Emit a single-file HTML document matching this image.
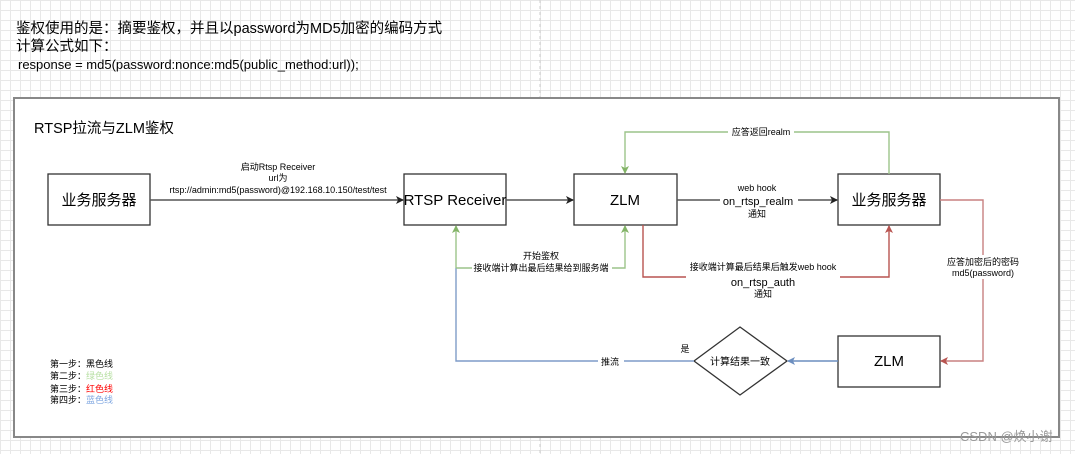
<!DOCTYPE html>
<html><head><meta charset="utf-8"><style>
body{margin:0;width:1075px;height:454px;overflow:hidden;background:#fff;
background-image:linear-gradient(#e8e8e8 1px,transparent 1px),linear-gradient(90deg,#e8e8e8 1px,transparent 1px);background-size:10px 10px;}
svg{position:absolute;left:0;top:0}
text{font-family:"Liberation Sans","Noto Sans CJK SC",sans-serif;fill:#000}
</style></head><body>
<svg width="1075" height="454" viewBox="0 0 1075 454">
<defs>
<marker id="ab" markerWidth="8" markerHeight="8" refX="7" refY="4" orient="auto" markerUnits="userSpaceOnUse"><path d="M0,0 L8,4 L0,8 L2,4z" fill="#222"/></marker>
<marker id="ag" markerWidth="8" markerHeight="8" refX="7" refY="4" orient="auto" markerUnits="userSpaceOnUse"><path d="M0,0 L8,4 L0,8 L2,4z" fill="#82b366"/></marker>
<marker id="ar" markerWidth="8" markerHeight="8" refX="7" refY="4" orient="auto" markerUnits="userSpaceOnUse"><path d="M0,0 L8,4 L0,8 L2,4z" fill="#b85450"/></marker>
<marker id="abl" markerWidth="8" markerHeight="8" refX="7" refY="4" orient="auto" markerUnits="userSpaceOnUse"><path d="M0,0 L8,4 L0,8 L2,4z" fill="#6c8ebf"/></marker>
</defs>
<line x1="540" y1="0" x2="540" y2="454" stroke="#ccc" stroke-dasharray="3,3"/>
<text x="16" y="33" font-size="14.5">鉴权使用的是：摘要鉴权，并且以password为MD5加密的编码方式</text>
<text x="16" y="51" font-size="14.5">计算公式如下：</text>
<text x="18" y="69" font-size="13">response = md5(password:nonce:md5(public_method:url));</text>
<rect x="14" y="98" width="1045" height="339" fill="#fff" stroke="#888" stroke-width="2"/>
<text x="34" y="133" font-size="14.5">RTSP拉流与ZLM鉴权</text>
<g fill="#fff" stroke="#333" stroke-width="1.3">
<rect x="48" y="174" width="102" height="51"/>
<rect x="404" y="174" width="102" height="51"/>
<rect x="574" y="174" width="103" height="51"/>
<rect x="838" y="174" width="102" height="51"/>
<rect x="838" y="336" width="102" height="51"/>
<path d="M740,327 L787,361 L740,395 L694,361z"/>
</g>
<g fill="none" stroke-width="1.4">
<line x1="150" y1="200" x2="403" y2="200" stroke="#555" marker-end="url(#ab)"/>
<line x1="506" y1="200" x2="573" y2="200" stroke="#555" marker-end="url(#ab)"/>
<line x1="677" y1="200" x2="837" y2="200" stroke="#555" marker-end="url(#ab)"/>
<polyline points="889,174 889,132 625,132 625,173" stroke="#9cc48a" marker-end="url(#ag)"/>
<polyline points="694,361 456,361 456,268" stroke="#7f9cc8"/>
<polyline points="456,268 625,268 625,226" stroke="#9cc48a" marker-end="url(#ag)"/>
<polyline points="456,268 456,226" stroke="#9cc48a" marker-end="url(#ag)"/>
<polyline points="643,225 643,277 889,277 889,226" stroke="#b85450" marker-end="url(#ar)"/>
<polyline points="940,200 983,200 983,361 941,361" stroke="#c88080" marker-end="url(#ar)"/>
<line x1="838" y1="361" x2="788" y2="361" stroke="#6c8ebf" marker-end="url(#abl)"/>
</g>
<g text-anchor="middle">
<text x="99" y="205" font-size="15">业务服务器</text>
<text x="455" y="205" font-size="15">RTSP Receiver</text>
<text x="625" y="205" font-size="15">ZLM</text>
<text x="889" y="205" font-size="15">业务服务器</text>
<text x="889" y="366" font-size="15">ZLM</text>
<text x="740" y="365" font-size="10">计算结果一致</text>
<g font-size="9">
<rect x="230" y="162" width="100" height="10" fill="#fff"/>
<text x="278" y="170">启动Rtsp Receiver</text>
<text x="278" y="181">url为</text>
<rect x="166" y="184" width="226" height="10" fill="#fff"/>
<text x="278" y="193">rtsp://admin:md5(password)@192.168.10.150/test/test</text>
<rect x="728" y="127" width="66" height="11" fill="#fff"/>
<text x="761" y="135">应答返回realm</text>
<text x="757" y="191">web hook</text>
<text x="757" y="217">通知</text>
<rect x="472" y="250" width="140" height="24" fill="#fff"/>
<text x="541" y="259">开始鉴权</text>
<text x="541" y="271">接收端计算出最后结果给到服务端</text>
<rect x="686" y="262" width="154" height="22" fill="#fff"/>
<text x="763" y="270">接收端计算最后结果后触发web hook</text>
<text x="763" y="297">通知</text>
<rect x="946" y="255" width="74" height="24" fill="#fff"/>
<text x="983" y="265">应答加密后的密码</text>
<text x="983" y="276">md5(password)</text>
<rect x="598" y="356" width="26" height="10" fill="#fff"/>
<text x="610" y="365">推流</text>
<text x="685" y="352">是</text>
</g>
<rect x="720" y="195" width="78" height="12" fill="#fff"/>
<text x="758" y="205" font-size="11">on_rtsp_realm</text>
<text x="763" y="286" font-size="11">on_rtsp_auth</text>
</g>
<g font-size="9">
<text x="50" y="367">第一步：<tspan>黑色线</tspan></text>
<text x="50" y="379">第二步：<tspan style="fill:#b9e0a5">绿色线</tspan></text>
<text x="50" y="392">第三步：<tspan style="fill:#ff0000">红色线</tspan></text>
<text x="50" y="403">第四步：<tspan style="fill:#7ea6e0">蓝色线</tspan></text>
</g>
<text x="960" y="441" font-size="13" style="fill:#999">CSDN @焕小谢</text>
</svg>
</body></html>
